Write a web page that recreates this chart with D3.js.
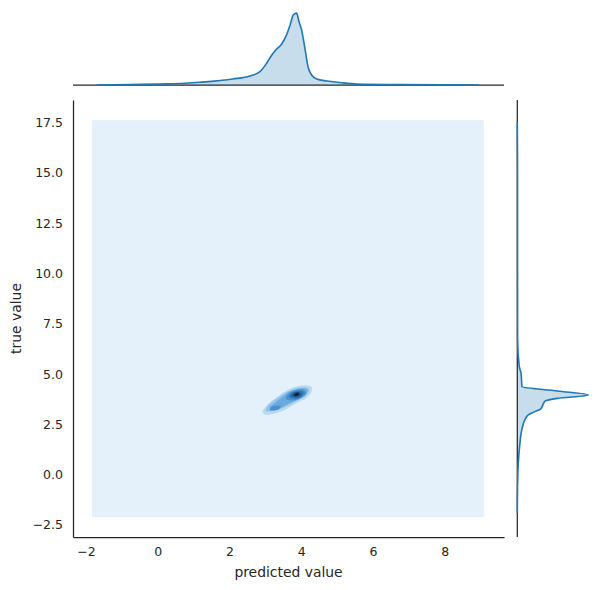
<!DOCTYPE html>
<html>
<head>
<meta charset="utf-8">
<script src="https://cdn.jsdelivr.net/npm/d3@7"></script>
<style>
  html, body { margin: 0; padding: 0; background: #ffffff; }
  svg { display: block; }
  text { font-family: "DejaVu Sans", sans-serif; fill: #262626; }
</style>
</head>
<body>
<svg id="chart" width="601" height="590"></svg>
<script>
// ---------------- DATA ----------------
const xTicks = [-2, 0, 2, 4, 6, 8];
const yTicks = [-2.5, 0, 2.5, 5, 7.5, 10, 12.5, 15, 17.5];
const xLabel = "predicted value";
const yLabel = "true value";

// marginal density of predicted values (x) -> density
const topX =       [-1.70, -0.77, 0.06, 0.76, 1.18, 2.10, 2.57, 2.85, 3.04, 3.18, 3.31, 3.45, 3.59, 3.69, 3.78, 3.87, 3.94, 4.01, 4.10, 4.19, 4.29, 4.43, 4.71, 5.08, 5.55, 6.75, 8.95];
const topDensity = [0.000, 0.006, 0.013, 0.022, 0.035, 0.078, 0.117, 0.172, 0.285, 0.389, 0.463, 0.528, 0.649, 0.778, 0.908, 0.930, 0.817, 0.713, 0.480, 0.233, 0.130, 0.078, 0.052, 0.032, 0.013, 0.006, 0.000];

// marginal density of true values (y) -> density
const rightY =       [17.53, 15.0, 10.0, 6.69, 5.37, 5.04, 4.37, 4.16, 3.96, 3.79, 3.66, 3.46, 3.27, 3.12, 2.97, 2.72, 2.22, 1.39, 0.58, -0.26, -1.90];
const rightDensity = [0.000, 0.004, 0.004, 0.005, 0.032, 0.060, 0.076, 0.644, 1.143, 0.644, 0.451, 0.411, 0.378, 0.274, 0.177, 0.121, 0.072, 0.037, 0.016, 0.006, 0.000];

// extent of the KDE grid (lowest filled level)
const gridX = [-1.83, 9.09];
const gridY = [-2.11, 17.62];

// filled contour levels of the joint KDE, [x, y] in data units (outer -> inner)
const contourLevels = [
  [[[2.925,3.096],[2.989,2.982],[3.315,3.067],[3.593,3.265],[3.872,3.564],[4.150,3.812],[4.290,4.140],[4.290,4.359],[4.150,4.438],[3.872,4.389],[3.638,4.225],[3.454,4.026],[3.220,3.728],[3.036,3.429],[2.942,3.231]]],
  [[[3.017,3.146],[3.315,3.196],[3.593,3.395],[3.872,3.678],[4.131,3.926],[4.223,4.225],[4.103,4.339],[3.872,4.309],[3.638,4.140],[3.407,3.892],[3.175,3.593],[3.036,3.345]]],
  [[[3.128,3.231],[3.407,3.315],[3.685,3.564],[3.964,3.762],[4.150,4.026],[4.167,4.225],[3.964,4.274],[3.685,4.140],[3.499,3.892],[3.267,3.564],[3.109,3.345]]],
  [[[3.574,3.762],[3.777,3.693],[4.011,3.842],[4.131,4.061],[4.056,4.225],[3.825,4.190],[3.638,4.011]],
   [[3.128,3.206],[3.379,3.255],[3.435,3.405],[3.212,3.405]]],
  [[[3.666,3.842],[3.872,3.777],[4.039,3.926],[4.056,4.125],[3.872,4.160],[3.705,4.026]]],
  [[[3.733,3.892],[3.916,3.862],[4.011,4.011],[3.916,4.110],[3.760,4.026]]],
  [[[3.777,3.926],[3.916,3.912],[3.964,4.026],[3.872,4.076],[3.797,4.011]]],
  [[[3.816,3.941],[3.916,3.941],[3.936,4.026],[3.852,4.041]]],
  [[[3.844,3.961],[3.908,3.961],[3.908,4.011],[3.852,4.011]]]
];

// ---------------- STYLE ----------------
const lineColor = "#1f77b4";
const spineColor = "#262626";
const gridColor = "#e5f1fa";
const levelColors = ["#badaf1", "#94c4e8", "#6aaadc", "#4a90cc", "#2e75b5", "#205c95", "#154170", "#0d2846", "#071320"];

// ---------------- LAYOUT ----------------
const svg = d3.select("#chart");
const main = { left: 73, right: 504, top: 100, bottom: 537 };
const topM = { base: 85 };
const rightM = { base: 517.3 };

const x = d3.scaleLinear().domain([-2.36, 9.65]).range([main.left, main.right]);
const y = d3.scaleLinear().domain([-3.1, 18.62]).range([main.bottom, main.top]);
const topScale = d3.scaleLinear().domain([0, 1.10]).range([topM.base, 0]);
const rightScale = d3.scaleLinear().domain([0, 1.0]).range([rightM.base, rightM.base + 62.1]);

// ---------------- JOINT KDE ----------------
svg.append("rect")
  .attr("x", x(gridX[0])).attr("y", y(gridY[1]))
  .attr("width", x(gridX[1]) - x(gridX[0]))
  .attr("height", y(gridY[0]) - y(gridY[1]))
  .attr("fill", gridColor);

const ring = d3.line().x(d => x(d[0])).y(d => y(d[1])).curve(d3.curveCatmullRomClosed.alpha(0.5));
contourLevels.forEach((rings, i) => {
  rings.forEach(r => {
    svg.append("path").attr("d", ring(r)).attr("fill", levelColors[i]).attr("stroke", "none");
  });
});

// ---------------- AXES ----------------
const fmtY = d3.format(".1f");
const xAxis = d3.axisBottom(x).tickValues(xTicks).tickSize(0).tickSizeOuter(0).tickPadding(10).tickFormat(d3.format("d"));
const yAxis = d3.axisLeft(y).tickValues(yTicks).tickSize(0).tickSizeOuter(0).tickPadding(10).tickFormat(fmtY);

const gx = svg.append("g").attr("transform", `translate(0,${main.bottom})`).call(xAxis);
const gy = svg.append("g").attr("transform", `translate(${main.left},0)`).call(yAxis);
[gx, gy].forEach(g => {
  g.select(".domain").attr("stroke", spineColor).attr("stroke-width", 1.25);
  g.selectAll("text").attr("font-size", "12.5px").attr("font-family", "DejaVu Sans").attr("fill", spineColor);
});

svg.append("text").attr("x", (main.left + main.right) / 2).attr("y", 577)
  .attr("text-anchor", "middle").attr("font-size", "13.9px").text(xLabel);
svg.append("text").attr("transform", `translate(21,${(main.top + main.bottom) / 2}) rotate(-90)`)
  .attr("text-anchor", "middle").attr("font-size", "13.9px").text(yLabel);

// ---------------- TOP MARGINAL ----------------
const topData = topX.map((v, i) => [v, topDensity[i]]);
const topArea = d3.area().x(d => x(d[0])).y0(topScale(0)).y1(d => topScale(d[1])).curve(d3.curveMonotoneX);
const topLine = d3.line().x(d => x(d[0])).y(d => topScale(d[1])).curve(d3.curveMonotoneX);
svg.append("path").attr("d", topArea(topData)).attr("fill", lineColor).attr("fill-opacity", 0.25);
svg.append("line").attr("x1", main.left).attr("x2", main.right).attr("y1", topM.base).attr("y2", topM.base)
  .attr("stroke", spineColor).attr("stroke-width", 1.25);
svg.append("path").attr("d", topLine(topData)).attr("fill", "none").attr("stroke", lineColor).attr("stroke-width", 1.6);

// ---------------- RIGHT MARGINAL ----------------
const rightData = rightY.map((v, i) => [v, rightDensity[i]]);
const rightArea = d3.area().y(d => y(d[0])).x0(rightScale(0)).x1(d => rightScale(d[1])).curve(d3.curveMonotoneY);
const rightLine = d3.line().y(d => y(d[0])).x(d => rightScale(d[1])).curve(d3.curveMonotoneY);
svg.append("path").attr("d", rightArea(rightData)).attr("fill", lineColor).attr("fill-opacity", 0.25);
svg.append("line").attr("x1", rightM.base).attr("x2", rightM.base).attr("y1", main.top).attr("y2", main.bottom)
  .attr("stroke", spineColor).attr("stroke-width", 1.25);
svg.append("path").attr("d", rightLine(rightData)).attr("fill", "none").attr("stroke", lineColor).attr("stroke-width", 1.6);
</script>
</body>
</html>
